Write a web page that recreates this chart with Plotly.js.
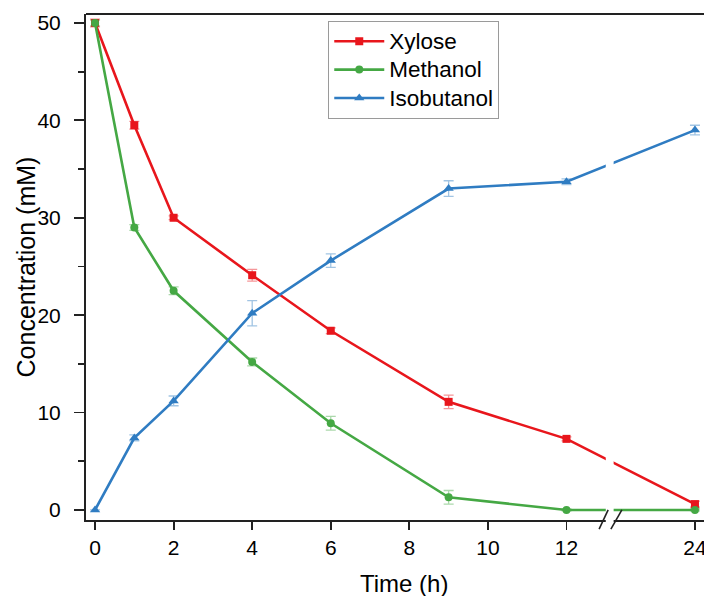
<!DOCTYPE html>
<html>
<head>
<meta charset="utf-8">
<script src="https://cdn.plot.ly/plotly-3.0.1.min.js"></script>
<style>html,body{margin:0;padding:0;background:#fff;}#chart{width:704px;height:596px;}</style>
</head>
<body>
<div id="chart"></div>
<script>
// ---- data ----
const time = [0, 1, 2, 4, 6, 9, 12, 24];
const xylose = [50.0, 39.5, 30.0, 24.1, 18.4, 11.1, 7.3, 0.6];
const xyloseErr = [0.4, 0.4, 0.2, 0.6, 0.3, 0.7, 0.2, 0.3];
const methanol = [50.0, 29.0, 22.5, 15.2, 8.9, 1.3, 0.0, 0.0];
const methanolErr = [0.3, 0.3, 0.4, 0.4, 0.7, 0.7, 0.1, 0.1];
const isobutanol = [0.0, 7.4, 11.2, 20.2, 25.6, 33.0, 33.7, 39.0];
const isobutanolErr = [0.0, 0.3, 0.5, 1.3, 0.7, 0.8, 0.3, 0.5];
const seriesNames = ['Xylose', 'Methanol', 'Isobutanol'];
const xTicks = [0, 2, 4, 6, 8, 10, 12, 24];
const yTicks = [0, 10, 20, 30, 40, 50];
const yMinorTicks = [5, 15, 25, 35, 45];

// broken-axis scale: hours beyond 12 are compressed
const BREAK_AT = 12, COMPRESS = 0.2725;
function brk(t) { return t <= BREAK_AT ? t : BREAK_AT + (t - BREAK_AT) * COMPRESS; }
const xPos = time.map(brk);

function series(name, y, err, color, errColor, symbol, size) {
  return {
    x: xPos, y: y, name: '<span style="font-size:22.5px">' + name + '</span>',
    type: 'scatter', mode: 'lines+markers',
    line: {color: color, width: 2.6},
    marker: {color: color, symbol: symbol, size: size},
    error_y: {type: 'data', array: err, visible: true, color: errColor, thickness: 1.3, width: 5},
    cliponaxis: false
  };
}

const traces = [
  series(seriesNames[0], xylose, xyloseErr, '#e8161c', 'rgba(232,22,28,0.45)', 'square', 8),
  series(seriesNames[1], methanol, methanolErr, '#45a844', 'rgba(69,168,68,0.45)', 'circle', 8),
  series(seriesNames[2], isobutanol, isobutanolErr, '#2f7cc2', 'rgba(47,124,194,0.45)', 'triangle-up', 9)
];

const brkC = 13.1;
const layout = {
  width: 704, height: 596,
  margin: {l: 86, r: 0, t: 14, b: 76},
  paper_bgcolor: '#fff', plot_bgcolor: '#fff',
  font: {family: 'Liberation Sans, Arial, sans-serif', color: '#000', size: 21},
  showlegend: true,
  legend: {
    x: 0.392, y: 0.986, xanchor: 'left', yanchor: 'top',
    bgcolor: '#fff', bordercolor: '#9a9a9a', borderwidth: 1,
    font: {size: 19.5, color: '#000'}, tracegroupgap: 0, itemwidth: 50
  },
  xaxis: {
    range: [-0.23, 15.5], showgrid: false, zeroline: false,
    showline: true, linecolor: '#222', linewidth: 2,
    ticks: 'outside', ticklen: 8, tickwidth: 1.8, tickcolor: '#222',
    tickmode: 'array', tickvals: xTicks.map(brk), ticktext: xTicks.map(String),
    tickfont: {size: 21}, ticklabeloverflow: 'allow'
  },
  yaxis: {
    range: [-1.03, 50.92], showgrid: false, zeroline: false,
    showline: true, linecolor: '#222', linewidth: 2,
    ticks: 'outside', ticklen: 10, tickwidth: 1.8, tickcolor: '#222',
    tickmode: 'array', tickvals: yTicks, ticktext: yTicks.map(String),
    minor: {tickvals: yMinorTicks, ticks: 'outside', ticklen: 6, tickwidth: 1.8, tickcolor: '#222'},
    tickfont: {size: 21}, ticklabelstandoff: 9
  },
  annotations: [
    {text: 'Time (h)', xref: 'paper', yref: 'paper', x: 0.515, y: -0.094, xanchor: 'center', yanchor: 'top',
     showarrow: false, font: {size: 24, color: '#000'}},
    {text: 'Concentration (mM)', xref: 'paper', yref: 'paper', x: -0.0955, y: 0.501, xanchor: 'center', yanchor: 'middle',
     textangle: -90, showarrow: false, font: {size: 25, color: '#000'}}
  ],
  shapes: [
    {type: 'rect', xref: 'x', yref: 'paper', x0: brkC - 0.1, x1: brkC + 0.1, y0: -0.01, y1: 0.99,
     fillcolor: '#fff', line: {width: 0}, layer: 'above'},
    {type: 'line', xref: 'x', yref: 'paper', x0: brkC - 0.27, x1: brkC - 0.04, y0: -0.018, y1: 0.02,
     line: {color: '#222', width: 1.6}, layer: 'above'},
    {type: 'line', xref: 'x', yref: 'paper', x0: brkC + 0.03, x1: brkC + 0.31, y0: -0.018, y1: 0.02,
     line: {color: '#222', width: 1.6}, layer: 'above'},
    {type: 'line', xref: 'paper', yref: 'paper', x0: 0, x1: 1, y0: 1, y1: 1,
     line: {color: '#222', width: 2}, layer: 'above'}
  ]
};

Plotly.newPlot('chart', traces, layout, {displayModeBar: false, staticPlot: true});
</script>
</body>
</html>
